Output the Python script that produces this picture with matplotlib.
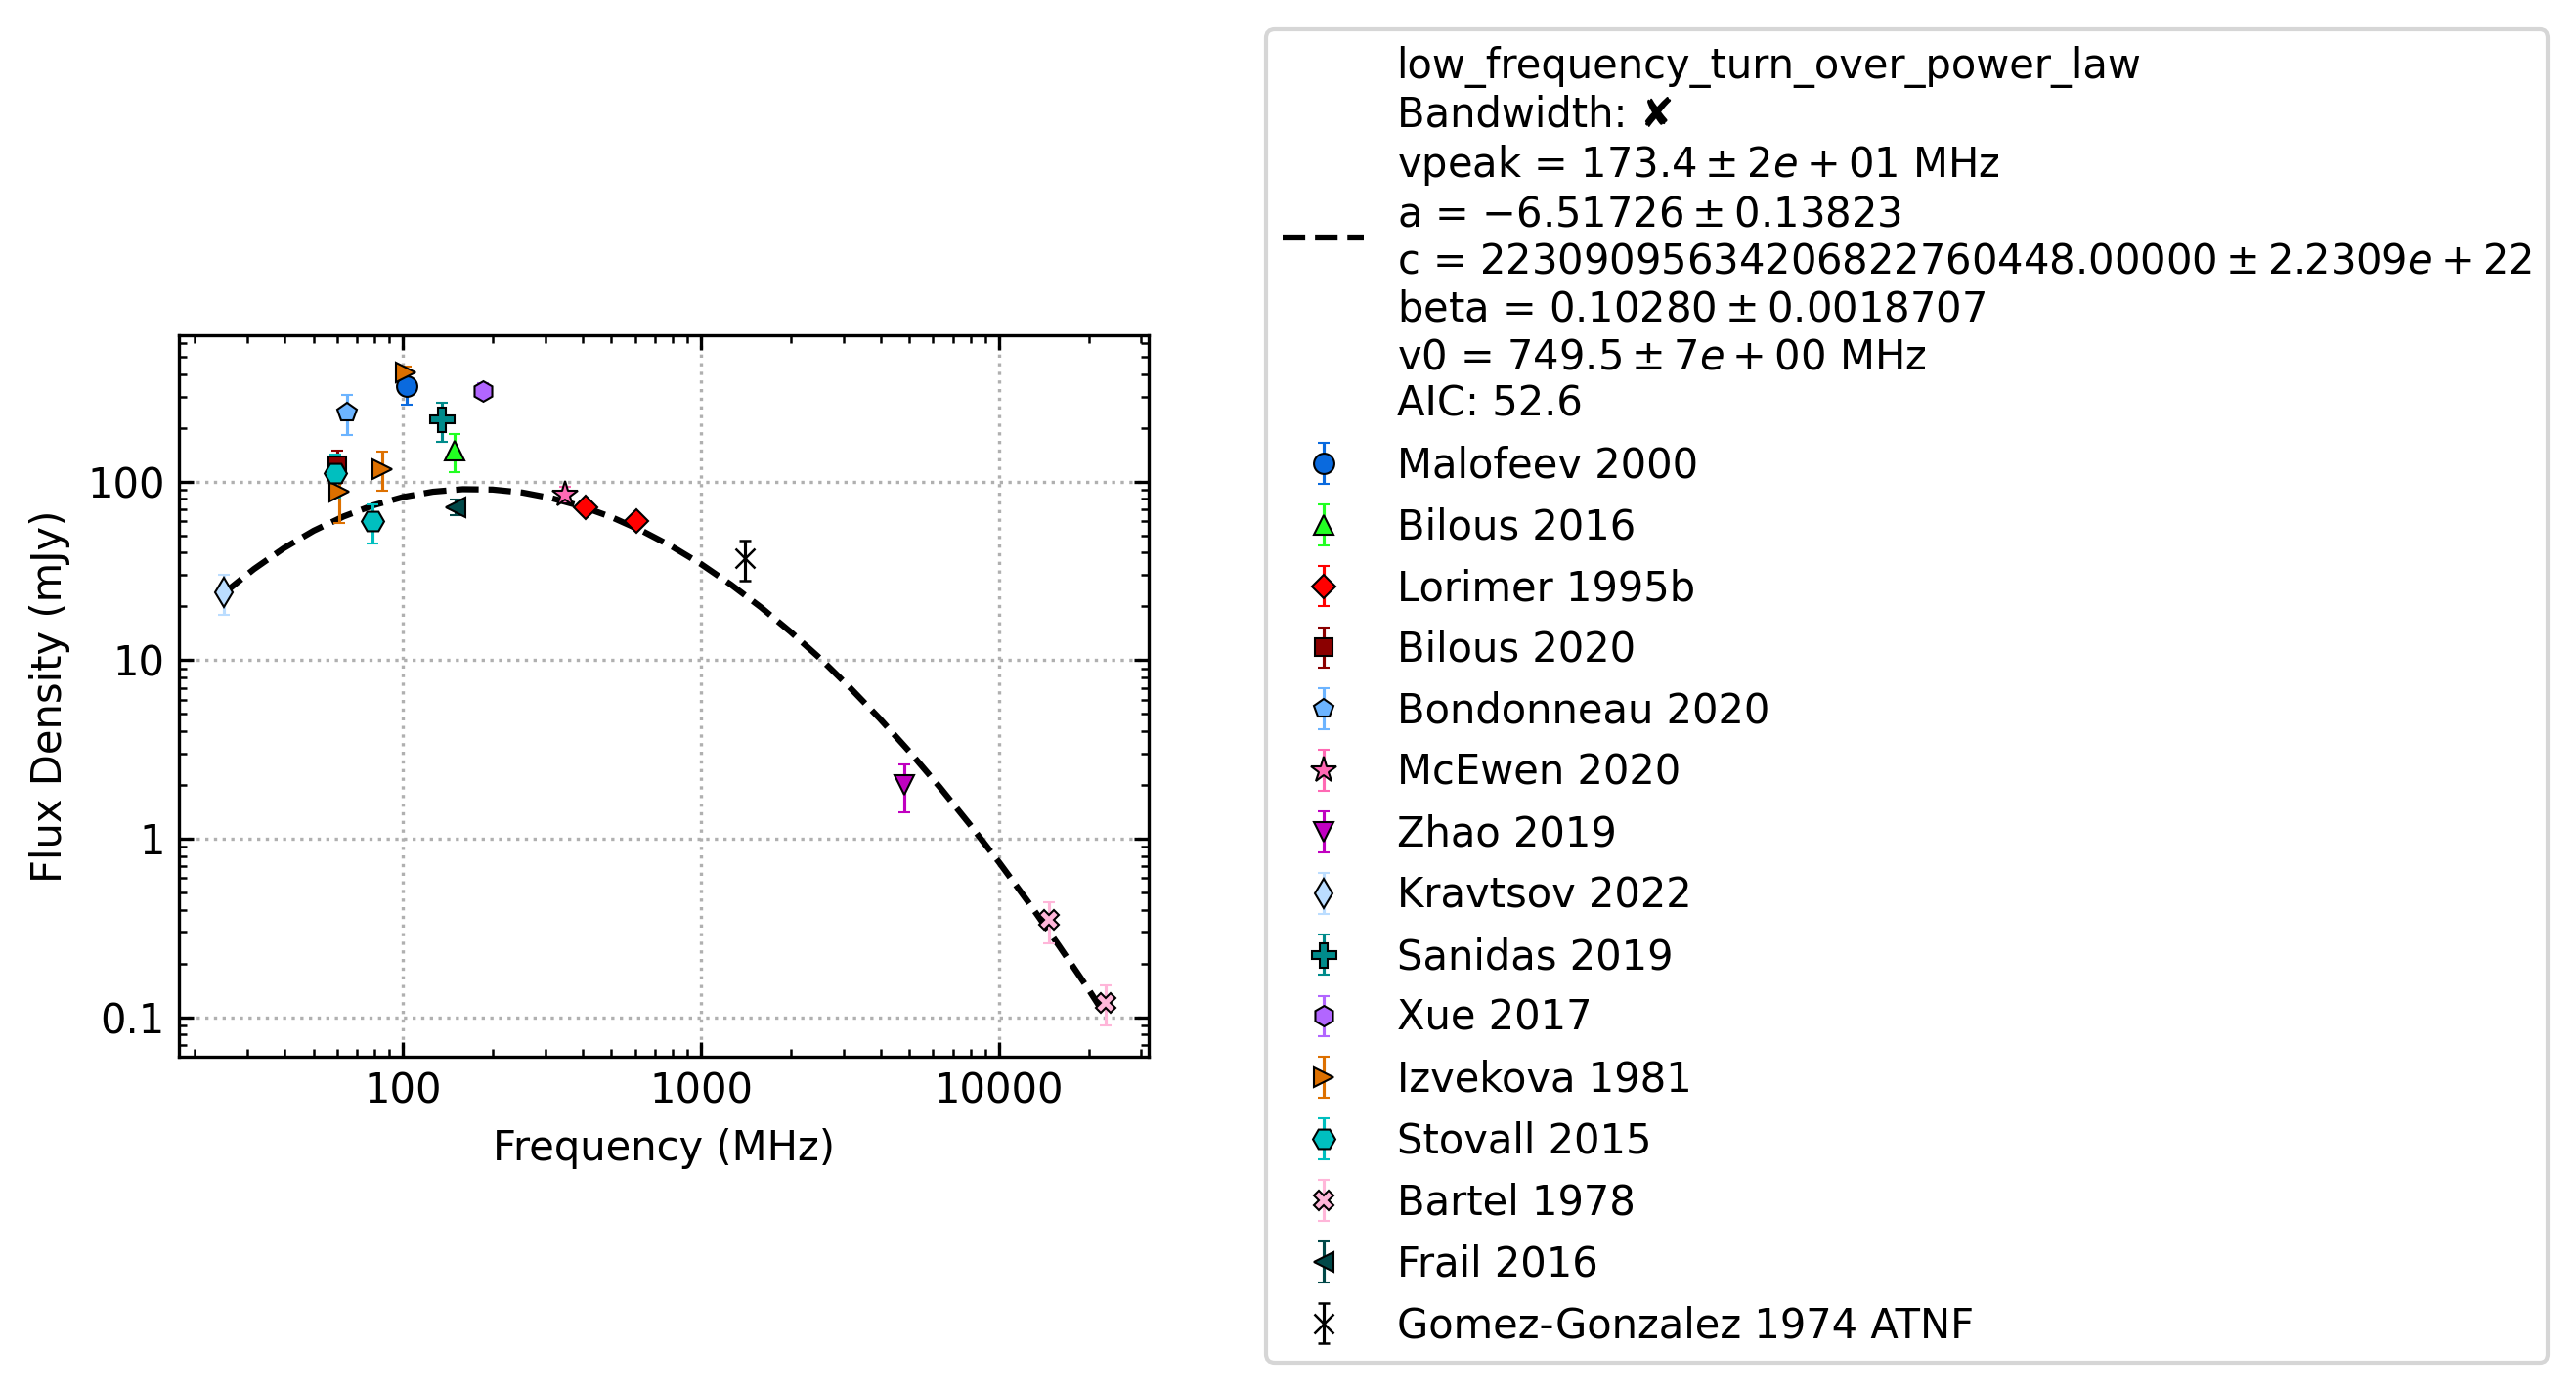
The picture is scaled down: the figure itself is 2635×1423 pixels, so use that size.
import matplotlib
matplotlib.use("Agg")
import matplotlib.pyplot as plt
from matplotlib.ticker import FormatStrFormatter, NullFormatter

# fitted model (low frequency turn over power law)
fit_freq = [25.0, 31.6, 39.8, 50.1, 63.1, 79.4, 100.0, 125.9, 158.5, 199.5, 251.2,
            316.2, 398.1, 501.2, 631.0, 794.3, 1000.0, 1259.0, 1585.0, 1995.0, 2512.0,
            3162.0, 3981.0, 5012.0, 6310.0, 7943.0, 10000.0, 12589.0, 15849.0, 19953.0, 22900.0]
fit_flux = [23.7, 32.4, 42.4, 53.1, 63.8, 73.7, 82.0, 87.8, 90.7, 90.3, 86.9,
            80.7, 72.6, 63.2, 53.2, 43.5, 34.5, 26.5, 19.8, 14.4, 10.2,
            7.00, 4.69, 3.06, 1.95, 1.21, 0.736, 0.436, 0.252, 0.143, 0.100]

fit_label = ("low_frequency_turn_over_power_law\n"
             "Bandwidth: \u2718\n"
             r"vpeak = $173.4 \pm 2e+01$ MHz" "\n"
             r"a = $-6.51726 \pm 0.13823$" "\n"
             r"c = $22309095634206822760448.00000 \pm 2.2309e+22$" "\n"
             r"beta = $0.10280 \pm 0.0018707$" "\n"
             r"v0 = $749.5 \pm 7e+00$ MHz" "\n"
             "AIC: 52.6")

# catalogue measurements (MHz, mJy, mJy)
malofeev_f = [102.5]
malofeev_s = [341.0]
malofeev_e = [70.0]

bilous16_f = [149.0]
bilous16_s = [149.0]
bilous16_e = [36.0]

lorimer_f = [408.0, 606.0]
lorimer_s = [72.0, 60.0]
lorimer_e = [5.0, 4.0]

bilous20_f = [60.0]
bilous20_s = [124.0]
bilous20_e = [25.0]

bondonneau_f = [65.0]
bondonneau_s = [244.0]
bondonneau_e = [62.0]

mcewen_f = [350.0]
mcewen_s = [85.0]
mcewen_e = [8.0]

zhao_f = [4820.0]
zhao_s = [2.0]
zhao_e = [0.6]

kravtsov_f = [25.0]
kravtsov_s = [24.0]
kravtsov_e = [6.0]

sanidas_f = [135.0]
sanidas_s = [222.0]
sanidas_e = [55.0]

xue_f = [185.0]
xue_s = [324.0]
xue_e = [30.0]

izvekova_f = [61.0, 85.0, 102.0]
izvekova_s = [88.0, 118.0, 411.0]
izvekova_e = [29.0, 29.0, 30.0]

stovall_f = [59.0, 79.0]
stovall_s = [111.0, 60.0]
stovall_e = [30.0, 15.0]

bartel_f = [14700.0, 22700.0]
bartel_s = [0.35, 0.12]
bartel_e = [0.09, 0.03]

frail_f = [150.0]
frail_s = [72.0]
frail_e = [7.0]

gomez_f = [1400.0]
gomez_s = [37.5]
gomez_e = [9.5]

fig = plt.figure(figsize=(2635 / 300, 1423 / 300), dpi=300, facecolor='white')
ax = fig.add_axes([0.0695, 0.2403, 0.3765, 0.5186])

ax.plot(fit_freq, fit_flux, 'k--', lw=1.5, label=fit_label)

def cat(f, s, e, marker, color, label, ms=5):
    ax.errorbar(f, s, yerr=e, linestyle='None', marker=marker, ms=ms, color=color,
                mec='k', mew=0.5, elinewidth=0.75, capsize=1.5, capthick=0.75, label=label)

cat(malofeev_f, malofeev_s, malofeev_e, 'o', '#0a6ade', 'Malofeev 2000')
cat(bilous16_f, bilous16_s, bilous16_e, '^', '#22ff22', 'Bilous 2016')
cat(lorimer_f, lorimer_s, lorimer_e, 'D', '#ff0000', 'Lorimer 1995b', ms=4)
cat(bilous20_f, bilous20_s, bilous20_e, 's', '#8b0000', 'Bilous 2020', ms=4.5)
cat(bondonneau_f, bondonneau_s, bondonneau_e, 'p', '#6cb4ff', 'Bondonneau 2020')
cat(mcewen_f, mcewen_s, mcewen_e, '*', '#ff69b4', 'McEwen 2020', ms=6.5)
cat(zhao_f, zhao_s, zhao_e, 'v', '#c000c0', 'Zhao 2019')
cat(kravtsov_f, kravtsov_s, kravtsov_e, 'd', '#bbddff', 'Kravtsov 2022', ms=5)
cat(sanidas_f, sanidas_s, sanidas_e, 'P', '#008b8b', 'Sanidas 2019', ms=6)
cat(xue_f, xue_s, xue_e, 'h', '#b266ff', 'Xue 2017')
cat(izvekova_f, izvekova_s, izvekova_e, '>', '#dd7000', 'Izvekova 1981')
cat(stovall_f, stovall_s, stovall_e, 'H', '#00bfbf', 'Stovall 2015', ms=5.5)
cat(bartel_f, bartel_s, bartel_e, 'X', '#ffb6d9', 'Bartel 1978')
cat(frail_f, frail_s, frail_e, '<', '#004848', 'Frail 2016')
ax.errorbar(gomez_f, gomez_s, yerr=gomez_e, linestyle='None', marker='x', ms=5, color='k',
            mew=0.6, elinewidth=0.75, capsize=1.5, capthick=0.75, label='Gomez-Gonzalez 1974 ATNF')

ax.set_xscale('log')
ax.set_yscale('log')
ax.set_xlim(17.7, 31800)
ax.set_ylim(0.06, 660)
ax.xaxis.set_major_formatter(FormatStrFormatter('%g'))
ax.yaxis.set_major_formatter(FormatStrFormatter('%g'))
ax.xaxis.set_minor_formatter(NullFormatter())
ax.yaxis.set_minor_formatter(NullFormatter())
ax.tick_params(which='both', direction='in', top=True, right=True)
ax.grid(True, which='major', ls=':')

ax.set_xlabel('Frequency (MHz)')
ax.set_ylabel('Flux Density (mJy)')
ax.legend(loc='center left', bbox_to_anchor=(1.1, 0.5))

fig.savefig('out.png', dpi=300)
